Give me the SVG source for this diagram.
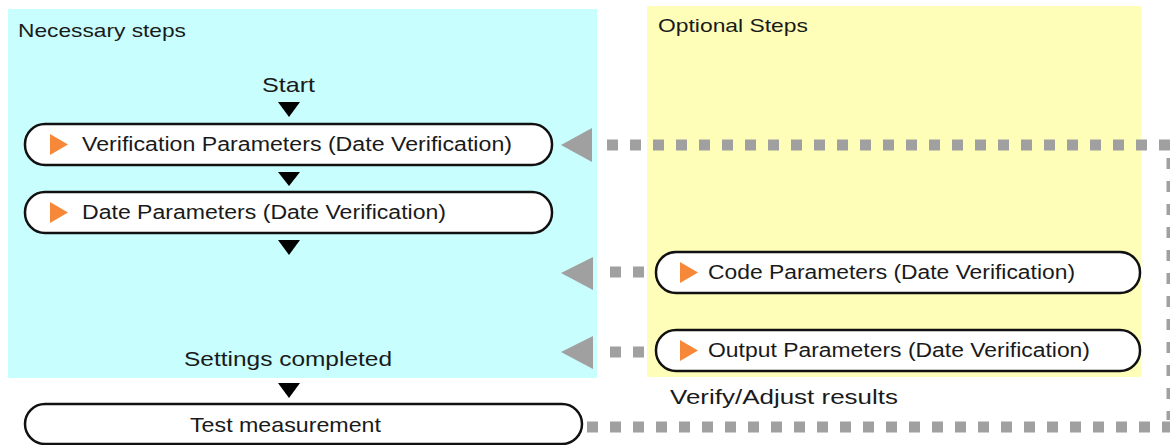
<svg xmlns="http://www.w3.org/2000/svg" width="1170" height="445" viewBox="0 0 1170 445">
<style>
.t{font-family:"Liberation Sans",Arial,sans-serif;fill:#1a1a1a}
.box{fill:#fff;stroke:#111;stroke-width:2.5}
.orn{fill:#f7883a}
.tri{fill:#000}
.dot{stroke:#a0a0a0;stroke-width:11;stroke-dasharray:11 12;fill:none}
.ah{fill:#a0a0a0}
</style>
<rect x="0" y="0" width="1170" height="445" fill="#fff"/>
<g id="panel-necessary">
<rect x="8" y="9" width="589" height="369" fill="#c8fefe"/>
<text class="t" x="18" y="37" font-size="19" textLength="168" lengthAdjust="spacingAndGlyphs">Necessary steps</text>
</g>
<g id="panel-optional">
<rect x="647" y="6" width="494" height="371" fill="#fefeb8"/>
<text class="t" x="658" y="32" font-size="19" textLength="150" lengthAdjust="spacingAndGlyphs">Optional Steps</text>
</g>
<g id="start"><text class="t" x="262" y="92" font-size="21" textLength="53" lengthAdjust="spacingAndGlyphs">Start</text></g>
<g id="verification">
<rect class="box" x="25" y="124" width="527" height="41" rx="20"/>
<polygon class="orn" points="50,134 68,144.5 50,155"/>
<text class="t" x="82" y="151" font-size="20" textLength="430" lengthAdjust="spacingAndGlyphs">Verification Parameters (Date Verification)</text>
</g>
<g id="date">
<rect class="box" x="25" y="192" width="527" height="41" rx="20"/>
<polygon class="orn" points="50,202 68,212.5 50,223"/>
<text class="t" x="82" y="219" font-size="20" textLength="364" lengthAdjust="spacingAndGlyphs">Date Parameters (Date Verification)</text>
</g>
<g id="code">
<rect class="box" x="656" y="252" width="484" height="41" rx="20"/>
<polygon class="orn" points="680,262 698,272.5 680,283"/>
<text class="t" x="708" y="279" font-size="20" textLength="367" lengthAdjust="spacingAndGlyphs">Code Parameters (Date Verification)</text>
</g>
<g id="output">
<rect class="box" x="656" y="330" width="484" height="41" rx="20"/>
<polygon class="orn" points="680,340 698,350.5 680,361"/>
<text class="t" x="708" y="357" font-size="20" textLength="382" lengthAdjust="spacingAndGlyphs">Output Parameters (Date Verification)</text>
</g>
<g id="settings"><text class="t" x="184" y="366" font-size="21" textLength="208" lengthAdjust="spacingAndGlyphs">Settings completed</text></g>
<g id="verify-label"><text class="t" x="670" y="404" font-size="21" textLength="228" lengthAdjust="spacingAndGlyphs">Verify/Adjust results</text></g>
<g id="test">
<rect class="box" x="25" y="404" width="557" height="40" rx="20"/>
<text class="t" x="190" y="432" font-size="21" textLength="191" lengthAdjust="spacingAndGlyphs">Test measurement</text>
</g>
<g id="connectors">
<polygon class="tri" points="278,102 300,102 289,117"/>
<polygon class="tri" points="278,172 300,172 289,186"/>
<polygon class="tri" points="278,240 300,240 289,255"/>
<polygon class="tri" points="278,383 300,383 289,398"/>
<line class="dot" x1="607" y1="145" x2="1170" y2="145"/>
<line class="dot" x1="1172" y1="158" x2="1172" y2="420"/>
<line class="dot" x1="587" y1="427" x2="1170" y2="427"/>
<line class="dot" x1="610" y1="272" x2="656" y2="272"/>
<line class="dot" x1="610" y1="352" x2="656" y2="352"/>
<polygon class="ah" points="561,145 592,128 592,162"/>
<polygon class="ah" points="561,273 593,257 593,290"/>
<polygon class="ah" points="561,352 593,336 593,369"/>
</g>
</svg>
